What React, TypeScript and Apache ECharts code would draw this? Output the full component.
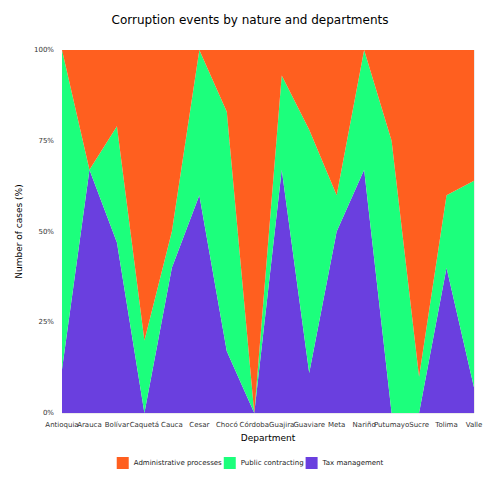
import { useRef, useEffect } from 'react'
import * as echarts from 'echarts'

const departments = ['Antioquia', 'Arauca', 'Bolívar', 'Caquetá', 'Cauca', 'Cesar', 'Chocó', 'Córdoba', 'Guajira', 'Guaviare', 'Meta', 'Nariño', 'Putumayo', 'Sucre', 'Tolima', 'Valle']
const taxManagement = [12, 67, 47, 0, 40, 60, 17, 0, 67, 11, 50, 67, 0, 0, 40, 7]
const publicContracting = [88, 0, 32, 20, 10, 40, 66, 0, 26, 67, 10, 33, 75, 10, 20, 57]
const adminProcesses = [0, 33, 21, 80, 50, 0, 17, 100, 7, 22, 40, 0, 25, 90, 40, 36]
const yTicks = ['0%', '25%', '50%', '75%', '100%']

function App() {
  const chartRef = useRef<HTMLDivElement>(null)

  useEffect(() => {
    if (!chartRef.current) return
    const chart = echarts.init(chartRef.current, null, { renderer: 'svg' })
    const area = (name: string, data: number[], color: string) => ({
      name, type: 'line', stack: 'all', data, symbol: 'none',
      lineStyle: { width: 0 }, itemStyle: { color },
      areaStyle: { color, opacity: 1 },
    })
    chart.setOption({
      animation: false,
      textStyle: { fontFamily: 'DejaVu Sans' },
      title: { text: 'Corruption events by nature and departments', left: 'center', top: 9, textStyle: { fontSize: 12, fontWeight: 'normal', color: '#000' } },
      legend: {
        bottom: 26, itemWidth: 12, itemHeight: 12, itemGap: 2, icon: 'rect',
        textStyle: { fontSize: 7, color: '#222' },
        data: ['Administrative processes', 'Public contracting', 'Tax management'],
      },
      grid: { left: 62, right: 26, top: 50, bottom: 87 },
      xAxis: {
        type: 'category', data: departments, boundaryGap: false,
        name: 'Department', nameLocation: 'middle', nameGap: 20,
        nameTextStyle: { fontSize: 9, color: '#000' },
        axisLine: { show: false }, axisTick: { show: false },
        axisLabel: { interval: 0, fontSize: 7, color: '#333' },
        splitLine: { show: true, lineStyle: { color: '#ebebeb' } },
      },
      yAxis: {
        type: 'value', min: 0, max: 100, interval: 25,
        name: 'Number of cases (%)', nameLocation: 'middle', nameGap: 38,
        nameTextStyle: { fontSize: 9, color: '#000' },
        axisLabel: { fontSize: 7, color: '#333', formatter: (v: number) => yTicks[v / 25] },
        splitLine: { lineStyle: { color: '#ebebeb' } },
      },
      series: [
        area('Tax management', taxManagement, '#6a3fdf'),
        area('Public contracting', publicContracting, '#1cff7c'),
        area('Administrative processes', adminProcesses, '#ff5f1f'),
      ],
    })
    return () => chart.dispose()
  }, [])

  return <div ref={chartRef} style={{ width: '500px', height: '500px', margin: '-8px' }}></div>
}

export default App
